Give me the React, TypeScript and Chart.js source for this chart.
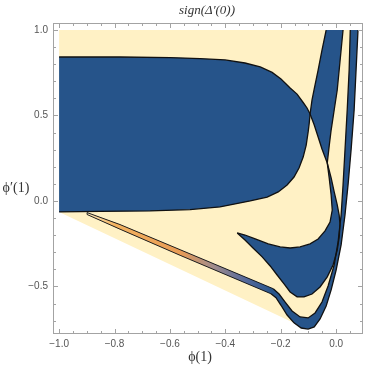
import { useEffect, useRef } from 'react';
import { Chart, registerables } from 'chart.js';

Chart.register(...registerables);

type P = [number, number];

// ---- axis ticks ----
const xTicks = [-1.0, -0.8, -0.6, -0.4, -0.2, 0.0];
const yTicks = [-0.5, 0.0, 0.5, 1.0];
const xMinorTicks = [-1.0, -0.95, -0.9, -0.85, -0.8, -0.75, -0.7, -0.65, -0.6, -0.55, -0.5, -0.45, -0.4, -0.35, -0.3, -0.25, -0.2, -0.15, -0.1, -0.05, 0.0, 0.05];
const yMinorTicks = [-0.7, -0.6, -0.5, -0.4, -0.3, -0.2, -0.1, 0.0, 0.1, 0.2, 0.3, 0.4, 0.5, 0.6, 0.7, 0.8, 0.9, 1.0];

// ---- boundary curves ----
const aTop: P[] = [
  [-1.0, 0.842], [-0.78, 0.842], [-0.599, 0.839], [-0.491, 0.833], [-0.401, 0.825],
  [-0.329, 0.807], [-0.274, 0.784], [-0.231, 0.752], [-0.199, 0.713], [-0.166, 0.661],
  [-0.141, 0.625], [-0.119, 0.576], [-0.105, 0.544], [-0.094, 0.509],
];
const c1Mid: P[] = [[-0.079, 0.444], [-0.065, 0.374], [-0.051, 0.304], [-0.032, 0.222]];
const hornOuter: P[] = [
  [-0.018, 0.135], [-0.007, 0.053], [0.004, -0.023], [0.011, -0.082], [0.014, -0.14],
  [0.011, -0.211], [0.004, -0.287], [-0.011, -0.374], [-0.032, -0.444], [-0.058, -0.503],
  [-0.087, -0.544], [-0.116, -0.561], [-0.141, -0.561], [-0.166, -0.532], [-0.188, -0.485],
  [-0.213, -0.433], [-0.238, -0.38], [-0.267, -0.327], [-0.3, -0.275], [-0.329, -0.228],
  [-0.357, -0.187],
];
const aBottom: P[] = [
  [-1.0, -0.064], [-0.852, -0.061], [-0.671, -0.058], [-0.527, -0.05], [-0.419, -0.035],
  [-0.31, 0.0], [-0.249, 0.023], [-0.209, 0.053], [-0.177, 0.094], [-0.152, 0.14],
  [-0.134, 0.193], [-0.119, 0.257], [-0.108, 0.327], [-0.101, 0.404], [-0.097, 0.456],
];
const c2Upper: P[] = [[-0.087, 0.591], [-0.079, 0.655], [-0.065, 0.766], [-0.051, 0.883], [-0.036, 1.0]];
const c3Upper: P[] = [
  [0.025, 1.0], [0.018, 0.883], [0.011, 0.766], [0.004, 0.649], [-0.007, 0.532],
  [-0.018, 0.415], [-0.025, 0.322],
];
const hornInner: P[] = [
  [-0.025, 0.135], [-0.018, 0.035], [-0.014, -0.053], [-0.022, -0.123], [-0.04, -0.175],
  [-0.065, -0.222], [-0.094, -0.251], [-0.13, -0.269], [-0.166, -0.275], [-0.202, -0.269],
  [-0.245, -0.251], [-0.292, -0.222], [-0.329, -0.199],
];
const bandOuter: P[] = [
  [0.079, 1.0], [0.072, 0.766], [0.065, 0.532], [0.054, 0.298], [0.043, 0.094],
  [0.032, -0.082], [0.018, -0.257], [0.0, -0.404], [-0.018, -0.52], [-0.036, -0.614],
  [-0.058, -0.69], [-0.079, -0.737], [-0.101, -0.749], [-0.126, -0.743], [-0.152, -0.713],
];
const sliverLower: P[] = [
  [-0.177, -0.667], [-0.199, -0.61], [-0.217, -0.566], [-0.235, -0.543],
  [-0.563, -0.318], [-0.78, -0.165], [-0.899, -0.079],
];
const bandInner: P[] = [
  [0.051, 1.0], [0.047, 0.766], [0.04, 0.532], [0.032, 0.298], [0.025, 0.094],
  [0.018, -0.082], [0.007, -0.24], [-0.007, -0.374], [-0.029, -0.497], [-0.051, -0.591],
  [-0.076, -0.655], [-0.101, -0.684], [-0.13, -0.678], [-0.159, -0.643], [-0.184, -0.591],
  [-0.206, -0.544], [-0.227, -0.513],
];
const sliverUpper: P[] = [[-0.563, -0.285], [-0.78, -0.138], [-0.899, -0.068]];
const regionTopLeft: P = [-1.0, 1.0];
const regionBottomLeft: P = [-1.0, -0.064];

const YELLOW = 'rgb(255, 241, 197)';
const BLUE = 'rgb(38, 84, 138)';
const LINE = '#111';

const rev = (a: P[]) => [...a].reverse();
const pts = (a: P[]) => a.map(([x, y]) => ({ x, y }));

function fillSet(poly: P[], color: any, order: number) {
  return {
    data: pts([...poly, poly[0]]),
    showLine: true,
    fill: 'shape',
    backgroundColor: color,
    borderWidth: 0,
    borderColor: 'rgba(0,0,0,0)',
    pointRadius: 0,
    tension: 0,
    order,
  };
}
function lineSet(line: P[], order: number, width = 1.3) {
  return {
    data: pts(line),
    showLine: true,
    fill: false,
    borderColor: LINE,
    borderWidth: width,
    pointRadius: 0,
    tension: 0,
    order,
  };
}

export default function App() {
  const ref = useRef<HTMLCanvasElement | null>(null);
  useEffect(() => {
    document.body.style.margin = '0';
    const P1 = aTop[aTop.length - 1];
    const P2 = c1Mid[c1Mid.length - 1];
    const tip = hornOuter[hornOuter.length - 1];
    const kink = bandInner[bandInner.length - 1];

    const regionPoly: P[] = [regionTopLeft, ...bandOuter, regionBottomLeft];
    const aPoly: P[] = [...aTop, ...rev(aBottom)];
    const band1Poly: P[] = [P1, ...c2Upper, ...c3Upper, ...rev(c1Mid)];
    const hornPoly: P[] = [P2, ...hornOuter, ...rev(hornInner)];
    const bandOPoly: P[] = [...bandOuter, ...sliverLower, ...rev(sliverUpper), ...rev(bandInner)];
    const sliverPoly: P[] = [kink, ...sliverUpper, ...rev(sliverLower.slice(3))];

    const sliverColor = (ctx: any) => {
      const ch = ctx.chart;
      const xs = ch.scales && ch.scales.x;
      if (!xs) return 'rgb(225,150,85)';
      const x0 = xs.getPixelForValue(-0.899);
      const x1 = xs.getPixelForValue(-0.227);
      if (!isFinite(x0) || !isFinite(x1) || x0 === x1) return 'rgb(225,150,85)';
      const g = ch.ctx.createLinearGradient(x0, 0, x1, 0);
      g.addColorStop(0, 'rgb(250,232,190)');
      g.addColorStop(0.15, 'rgb(243,178,95)');
      g.addColorStop(0.5, 'rgb(232,155,85)');
      g.addColorStop(0.68, 'rgb(160,140,140)');
      g.addColorStop(0.85, 'rgb(85,105,155)');
      g.addColorStop(1, BLUE);
      return g;
    };

    const framePlugin = {
      id: 'frameTicks',
      afterDatasetsDraw(chart: any) {
        const { ctx, chartArea: a, scales } = chart;
        const xs = scales.x, ys = scales.y;
        ctx.save();
        ctx.strokeStyle = '#a3a3a3';
        ctx.lineWidth = 1;
        ctx.strokeRect(Math.round(a.left) + 0.5, Math.round(a.top) + 0.5, Math.round(a.right - a.left) - 1, Math.round(a.bottom - a.top) - 1);
        ctx.beginPath();
        const isMajor = (v: number, arr: number[]) => arr.some((m) => Math.abs(m - v) < 1e-6);
        xMinorTicks.forEach((v) => {
          const px = Math.round(xs.getPixelForValue(v)) + 0.5;
          const len = isMajor(v, xTicks) ? 5 : 3;
          ctx.moveTo(px, a.bottom); ctx.lineTo(px, a.bottom - len);
          ctx.moveTo(px, a.top); ctx.lineTo(px, a.top + len);
        });
        yMinorTicks.forEach((v) => {
          const py = Math.round(ys.getPixelForValue(v)) + 0.5;
          const len = isMajor(v, yTicks) ? 5 : 3;
          ctx.moveTo(a.left, py); ctx.lineTo(a.left + len, py);
          ctx.moveTo(a.right, py); ctx.lineTo(a.right - len, py);
        });
        ctx.stroke();
        ctx.restore();
      },
      afterDraw(chart: any) {
        const { ctx } = chart;
        ctx.save();
        ctx.fillStyle = '#333';
        ctx.textAlign = 'center';
        ctx.textBaseline = 'middle';
        ctx.font = 'italic 13px "Liberation Serif", "DejaVu Serif", serif';
        ctx.fillText('sign(Δ′(0))', 207, 11);
        ctx.font = '14px "Liberation Serif", "DejaVu Serif", serif';
        ctx.fillText('ϕ(1)', 200, 357);
        ctx.fillText('ϕ′(1)', 16, 188);
        ctx.restore();
      },
    };

    const chart = new Chart(ref.current as HTMLCanvasElement, {
      type: 'scatter',
      data: {
        datasets: [
          fillSet(regionPoly, YELLOW, 20),
          fillSet(aPoly, BLUE, 19),
          fillSet(band1Poly, BLUE, 18),
          fillSet(hornPoly, BLUE, 17),
          fillSet(bandOPoly, BLUE, 16),
          fillSet(sliverPoly, sliverColor, 15),
          lineSet([...aTop, ...c1Mid, ...hornOuter], 5),
          lineSet([...aBottom, P1, ...c2Upper], 5),
          lineSet([...c3Upper, P2, ...hornInner, tip], 5),
          lineSet([...bandOuter, ...sliverLower.slice(0, 4)], 5),
          lineSet([...bandInner], 5),
          lineSet([...sliverLower.slice(3), ...rev(sliverUpper), kink], 5, 0.9),
        ] as any,
      },
      options: {
        animation: false,
        responsive: false,
        events: [],
        layout: { padding: { top: 23, right: 6, left: 0, bottom: 0 } },
        plugins: { legend: { display: false }, tooltip: { enabled: false }, title: { display: false } },
        scales: {
          x: {
            type: 'linear',
            min: -1.022,
            max: 0.097,
            grid: { display: false, drawTicks: false },
            border: { display: false },
            afterBuildTicks: (s: any) => { s.ticks = xTicks.map((v) => ({ value: v })); },
            afterFit: (s: any) => { s.height = 35; },
            ticks: {
              padding: 4,
              color: '#555',
              font: { family: '"Liberation Sans", Arial, sans-serif', size: 10 },
              callback: (v: any) => Number(v).toFixed(1).replace('-', '−'),
            },
          },
          y: {
            type: 'linear',
            min: -0.778,
            max: 1.041,
            grid: { display: false, drawTicks: false },
            border: { display: false },
            afterBuildTicks: (s: any) => { s.ticks = yTicks.map((v) => ({ value: v })); },
            afterFit: (s: any) => { s.width = 53; },
            ticks: {
              padding: 5,
              color: '#555',
              font: { family: '"Liberation Sans", Arial, sans-serif', size: 10 },
              callback: (v: any) => Number(v).toFixed(1).replace('-', '−'),
            },
          },
        },
      } as any,
      plugins: [framePlugin],
    });
    return () => chart.destroy();
  }, []);
  return (
    <div style={{ width: 369, height: 369 }}>
      <canvas ref={ref} width={369} height={369} style={{ display: 'block' }} />
    </div>
  );
}
